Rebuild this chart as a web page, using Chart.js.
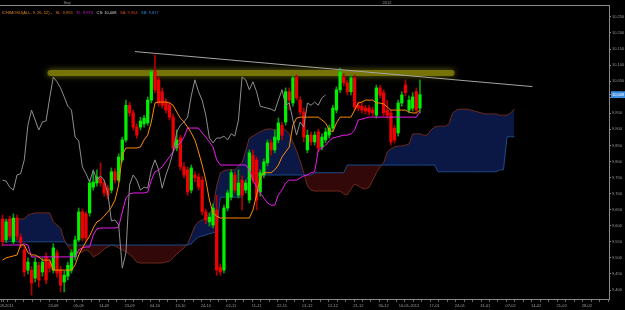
<!DOCTYPE html>
<html lang="en">
<head>
<meta charset="UTF-8">
<title>Ichimoku daily chart</title>
<script src="https://cdn.jsdelivr.net/npm/chart.js"></script>
<style>
  body { margin: 0; background: #000; }
  canvas { display: block; }
</style>
</head>
<body>
<canvas id="ichimoku" width="625" height="310"></canvas>
<script>
// daily bars, index 0 = first visible bar (start of Aug 2011), last bar = 115
const opens = [
  9621, 9556, 9621, 9550, 9624, 9565, 9525, 9462, 9462, 9437,
  9477, 9456, 9503, 9487, 9462, 9516, 9462, 9425, 9443, 9462,
  9503, 9556, 9643, 9637, 9640, 9720, 9733, 9749, 9733, 9717,
  9711, 9768, 9742, 9805, 9867, 9975, 9951, 9907, 9907, 9917,
  9920, 9991, 10079, 10054, 10017, 9985, 9975, 9938, 9842, 9873,
  9783, 9774, 9711, 9758, 9752, 9742, 9643, 9612, 9602, 9649,
  9471, 9462, 9655, 9689, 9758, 9695, 9742, 9711, 9680, 9820,
  9805, 9705, 9758, 9796, 9858, 9836, 9867, 9913, 9923, 10017,
  9982, 10063, 9991, 9954, 9836, 9882, 9861, 9892, 9845, 9867,
  9882, 9904, 9960, 10023, 10063, 10045, 10017, 10060, 9975, 9972,
  9966, 9966, 9960, 9944, 10029, 10014, 9960, 9951, 9904, 9889,
  9982, 10038, 9960, 9966, 10017, 9966
];
const highs = [
  9633, 9621, 9630, 9637, 9633, 9575, 9537, 9500, 9474, 9500,
  9487, 9500, 9516, 9497, 9544, 9525, 9474, 9459, 9487, 9525,
  9568, 9655, 9652, 9643, 9742, 9768, 9774, 9796, 9742, 9726,
  9780, 9777, 9824, 9876, 9991, 9985, 9960, 9917, 9938, 9944,
  10001, 10085, 10131, 10063, 10029, 9995, 9985, 9948, 9898, 9882,
  9796, 9783, 9789, 9768, 9762, 9752, 9652, 9640, 9668, 9695,
  9481, 9664, 9711, 9774, 9768, 9774, 9755, 9742, 9836, 9836,
  9814, 9774, 9808, 9867, 9867, 9898, 9935, 9923, 10029, 10029,
  10069, 10069, 10001, 9966, 9898, 9892, 9892, 9901, 9886, 9904,
  9913, 9975, 10032, 10091, 10073, 10054, 10069, 10069, 9985, 9982,
  9975, 9975, 9969, 10038, 10038, 10023, 9991, 9960, 9913, 9991,
  10017, 10054, 10004, 10014, 10029, 10054
];
const lows = [
  9537, 9547, 9559, 9544, 9556, 9531, 9443, 9450, 9384, 9425,
  9409, 9443, 9419, 9456, 9453, 9440, 9394, 9394, 9431, 9453,
  9493, 9550, 9553, 9550, 9630, 9711, 9723, 9723, 9692, 9683,
  9702, 9733, 9736, 9799, 9861, 9941, 9898, 9873, 9898, 9907,
  9913, 9982, 10014, 9972, 9966, 9951, 9929, 9833, 9833, 9774,
  9749, 9695, 9702, 9736, 9711, 9633, 9606, 9599, 9593, 9446,
  9446, 9453, 9646, 9680, 9702, 9686, 9649, 9702, 9671, 9733,
  9649, 9692, 9749, 9786, 9820, 9827, 9858, 9867, 9913, 9960,
  9972, 9991, 9944, 9861, 9827, 9851, 9851, 9830, 9836, 9858,
  9873, 9895, 9951, 10014, 10035, 10007, 10007, 9960, 9957, 9951,
  9948, 9944, 9941, 9935, 9998, 9941, 9935, 9851, 9858, 9879,
  9972, 10004, 9951, 9957, 9951, 9951
];
const closes = [
  9550, 9612, 9568, 9624, 9568, 9547, 9456, 9487, 9422, 9487,
  9431, 9487, 9431, 9468, 9531, 9453, 9415, 9446, 9477, 9516,
  9556, 9643, 9562, 9562, 9733, 9736, 9752, 9733, 9702, 9695,
  9768, 9742, 9814, 9867, 9975, 9951, 9907, 9882, 9926, 9935,
  9991, 10079, 10023, 9982, 9975, 9960, 9938, 9842, 9867, 9783,
  9758, 9705, 9780, 9749, 9720, 9643, 9618, 9627, 9655, 9462,
  9456, 9655, 9702, 9765, 9711, 9733, 9695, 9733, 9827, 9742,
  9680, 9765, 9799, 9858, 9836, 9876, 9920, 9882, 10017, 9991,
  10060, 9998, 9954, 9876, 9882, 9861, 9882, 9842, 9876, 9892,
  9904, 9966, 10023, 10079, 10045, 10017, 10060, 9969, 9966, 9960,
  9957, 9954, 9951, 10029, 10007, 9951, 9944, 9861, 9867, 9982,
  10007, 10014, 9991, 10001, 9960, 10008
];

// ichimoku lines (9, 26, 52)
const tenkan = [
  9493, 9500, 9503, 9506, 9509, 9540, 9540, 9516, 9509, 9509,
  9503, 9493, 9493, 9493, 9462, 9462, 9462, 9462, 9462, 9462,
  9478, 9509, 9531, 9550, 9568, 9593, 9612, 9618, 9630, 9643,
  9658, 9680, 9727, 9820, 9842, 9842, 9842, 9842, 9845, 9867,
  9882, 9923, 9982, 9985, 9985, 9985, 9982, 9975, 9954, 9935,
  9923, 9907, 9889, 9867, 9830, 9789, 9742, 9680, 9640, 9630,
  9624, 9624, 9624, 9624, 9624, 9624, 9624, 9624, 9624, 9649,
  9696, 9749, 9765, 9765, 9765, 9774, 9789, 9814, 9830, 9845,
  9913, 9935, 9938, 9938, 9938, 9938, 9938, 9938, 9929, 9920,
  9898, 9892, 9920, 9938, 9938, 9938, 9938, 9960, 9982, 9985,
  9991, 9991, 9991, 9982, 9982, 9979, 9969, 9960, 9960, 9960,
  9960, 9960, 9954, 9951, 9951, 9960
];
const kijun = [
  9540, 9540, 9540, 9540, 9540, 9540, 9544, 9540, 9503, 9503,
  9503, 9503, 9503, 9503, 9503, 9503, 9503, 9503, 9503, 9503,
  9503, 9525, 9531, 9534, 9534, 9571, 9590, 9593, 9593, 9593,
  9593, 9593, 9596, 9643, 9686, 9699, 9702, 9702, 9702, 9702,
  9705, 9742, 9768, 9774, 9783, 9799, 9814, 9830, 9848, 9858,
  9876, 9904, 9904, 9904, 9904, 9889, 9876, 9861, 9845, 9805,
  9789, 9789, 9789, 9789, 9789, 9789, 9789, 9789, 9774, 9742,
  9720, 9702, 9686, 9671, 9664, 9664, 9696, 9711, 9733, 9742,
  9742, 9742, 9749, 9755, 9758, 9765, 9768, 9836, 9842, 9851,
  9864, 9873, 9876, 9879, 9882, 9882, 9886, 9898, 9929, 9932,
  9935, 9938, 9938, 9938, 9938, 9938, 9938, 9938, 9938, 9938,
  9938, 9938, 9938, 9938, 9938, 9954
];
// lagging span, plotted 26 bars back (bars 0..89)
const chikou = [
  9742, 9739, 9720, 9711, 9758, 9762, 9805, 9913, 9960, 9929,
  9898, 9923, 9926, 9998, 10063, 10048, 10029, 10001, 9972, 9960,
  9876, 9864, 9783, 9762, 9736, 9774, 9742, 9755, 9742, 9702,
  9615, 9618, 9602, 9468, 9516, 9727, 9758, 9742, 9711, 9720,
  9717, 9774, 9805, 9774, 9717, 9758, 9789, 9830, 9892, 9913,
  9923, 9938, 10004, 10054, 10017, 9991, 9944, 9873, 9858, 9873,
  9873, 9879, 9867, 9886, 9879, 9929, 10063, 10054, 10023, 10048,
  10017, 9972, 9969, 9966, 9963, 9957, 9991, 10023, 9975, 9982,
  9929, 9882, 9923, 9907, 9982, 9975, 9985, 9975, 9998, 10007
];
// cloud, plotted 26 bars ahead (bars 0..141)
const senkouA = [
  9618, 9618, 9618, 9621, 9621, 9621, 9621, 9633, 9637, 9640,
  9640, 9640, 9640, 9640, 9612, 9602, 9593, 9556, 9537, 9519,
  9516, 9516, 9519, 9525, 9519, 9503, 9509, 9516, 9528, 9534,
  9540, 9537, 9531, 9525, 9519, 9512, 9500, 9487, 9484, 9484,
  9484, 9484, 9484, 9484, 9484, 9487, 9490, 9500, 9512, 9522,
  9531, 9544, 9571, 9599, 9612, 9618, 9627, 9637, 9655, 9724,
  9765, 9771, 9774, 9774, 9774, 9786, 9796, 9833, 9873, 9879,
  9886, 9892, 9898, 9901, 9901, 9898, 9898, 9904, 9898, 9886,
  9861, 9833, 9802, 9765, 9724, 9711, 9708, 9708, 9708, 9708,
  9708, 9708, 9708, 9708, 9699, 9696, 9714, 9730, 9724, 9717,
  9714, 9720, 9742, 9765, 9783, 9796, 9830, 9839, 9845, 9848,
  9848, 9851, 9855, 9886, 9886, 9886, 9882, 9882, 9898, 9907,
  9910, 9910, 9910, 9917, 9951, 9960, 9963, 9963, 9963, 9960,
  9957, 9954, 9951, 9948, 9948, 9948, 9948, 9944, 9944, 9944,
  9951, 9963
];
const senkouB = [
  9550, 9550, 9550, 9550, 9550, 9550, 9550, 9550, 9550, 9550,
  9550, 9550, 9550, 9550, 9550, 9550, 9550, 9550, 9540, 9540,
  9540, 9540, 9540, 9540, 9540, 9540, 9540, 9540, 9540, 9540,
  9540, 9540, 9540, 9540, 9540, 9540, 9540, 9540, 9540, 9540,
  9540, 9540, 9540, 9540, 9540, 9540, 9540, 9540, 9540, 9540,
  9540, 9540, 9544, 9556, 9565, 9568, 9571, 9575, 9578, 9581,
  9689, 9689, 9689, 9689, 9689, 9689, 9689, 9736, 9758, 9758,
  9758, 9758, 9758, 9758, 9758, 9758, 9758, 9758, 9758, 9758,
  9758, 9758, 9758, 9758, 9758, 9758, 9765, 9765, 9765, 9765,
  9765, 9765, 9765, 9765, 9765, 9789, 9789, 9789, 9789, 9789,
  9789, 9789, 9789, 9789, 9789, 9789, 9789, 9789, 9789, 9789,
  9789, 9789, 9789, 9789, 9789, 9789, 9789, 9789, 9789, 9789,
  9768, 9768, 9768, 9768, 9768, 9768, 9768, 9768, 9768, 9768,
  9768, 9768, 9768, 9768, 9768, 9768, 9768, 9774, 9774, 9877,
  9877, 9877
];

// drawn annotations (bar index / price)
const resistance = 10075;
const resistanceSpan = [13.2, 123.7];
const trendIdx = [36.5, 146];
const trendVal = [10142, 10033];

// axes
const xTickIdx = [0.3, 14, 21, 28, 35, 42, 49, 56, 63, 70, 77, 84, 91, 98, 105,
  112, 119, 126, 133, 140, 147, 154, 161];
const xTickLabels = ['01-08-2011', '23-08', '05-09', '14-09', '23-09', '04-10', '13-10',
  '24-10', '02-11', '11-11', '22-11', '01-12', '12-12', '21-12', '30-12', '10-01-2012',
  '17-01', '24-01', '31-01', '07-02', '14-02', '21-02', '28-02'];
const topTickIdx = [1.5, 17.8, 25.5, 33.2, 41.2, 48.3, 56.3, 63.5, 70.9, 78.4, 85.5,
  95.2, 105.9, 113.6, 121.4, 128.8, 136.2, 143.9, 151.7, 159.4];
const topTickLabels = ['', 'Sep', '', '', '', '', '', '', '', '', '',
  '', '2012', '', '', '', '', '', '', ''];
const priceTicks = [9400, 9450, 9500, 9550, 9600, 9650, 9700, 9750, 9800, 9850,
  9900, 9950, 10000, 10050, 10100, 10150, 10200, 10250];
const lastPrice = 10008;

const headerTexts = ['ICHIMOKU(ALL, 9, 26, 52) -', 'SL: 9,955', 'TL: 9,973', 'CS: 10,008', 'SA: 9,964', 'SB: 9,877'];
const headerColors = ['#e38b1f', '#e2781c', '#d820d8', '#d8d8d8', '#cc4a1e', '#2f86d6'];

Chart.defaults.font.family = '"Liberation Sans", Arial, sans-serif';
Chart.defaults.font.size = 4;

const pts = arr => arr.map((v, i) => ({ x: i, y: v }));
const up = closes.map((c, i) => c >= opens[i]);
const axisGrey = '#8a8a8a';
const textGrey = '#9a9a9a';

const headerPlugin = {
  id: 'header',
  afterDraw(chart) {
    const ctx = chart.ctx;
    ctx.save();
    ctx.font = '4px "Liberation Sans", Arial, sans-serif';
    ctx.textBaseline = 'middle';
    let x = 2;
    headerTexts.forEach((t, k) => {
      ctx.fillStyle = headerColors[k];
      ctx.fillText(t, x, 12.7);
      x += ctx.measureText(t).width + 3.5;
    });
    ctx.restore();
  }
};

const glowPlugin = {
  id: 'glow',
  beforeDatasetDraw(chart, args) {
    const ds = chart.data.datasets[args.index];
    if (!ds.glow) return;
    chart.ctx.save();
    chart.ctx.shadowColor = ds.glow;
    chart.ctx.shadowBlur = 6;
  },
  afterDatasetDraw(chart, args) {
    if (chart.data.datasets[args.index].glow) chart.ctx.restore();
  }
};

const line = (data, color, order, extra) => Object.assign({
  type: 'line', data, borderColor: color, borderWidth: 1,
  pointRadius: 0, tension: 0, fill: false, order
}, extra || {});

new Chart(document.getElementById('ichimoku'), {
  type: 'bar',
  data: {
    datasets: [
      line(pts(senkouA), '#6e2a1c', 9, { fill: { target: 1, above: '#0b1846', below: '#330808' } }),
      line(pts(senkouB), '#1d4c8c', 8),
      line([{ x: resistanceSpan[0], y: resistance }, { x: resistanceSpan[1], y: resistance }],
        'rgba(128,125,8,0.85)', 7, { borderWidth: 6, borderCapStyle: 'round', glow: 'rgba(150,145,10,0.85)' }),
      {
        type: 'bar', order: 6, grouped: false, barThickness: 1,
        data: lows.map((l, i) => ({ x: i, y: [l, highs[i]] })),
        backgroundColor: up.map(u => u ? '#0b9e0b' : '#b40000')
      },
      {
        type: 'bar', order: 5, grouped: false, barThickness: 2.6, minBarLength: 1,
        data: opens.map((o, i) => ({ x: i, y: [o, closes[i]] })),
        backgroundColor: up.map(u => u ? '#00f000' : '#f00000')
      },
      line(pts(kijun), '#ee1cee', 3),
      line(pts(tenkan), '#ff8c00', 2),
      line(pts(chikou), '#8e8e8e', 1),
      line([{ x: trendIdx[0], y: trendVal[0] }, { x: trendIdx[1], y: trendVal[1] }], '#a4a4a4', 0)
    ]
  },
  options: {
    responsive: false,
    animation: false,
    events: [],
    layout: { padding: 0 },
    plugins: { legend: { display: false }, tooltip: { enabled: false } },
    scales: {
      x: {
        type: 'linear', min: -0.69, max: 167.08, offset: false,
        afterBuildTicks: s => {
          const t = xTickIdx.map((v, k) => ({ value: v, name: xTickLabels[k] }));
          for (let k = 0; k * 7 / 3 < s.max; k++) {
            if (k % 3 === 0 && k >= 6) continue;
            t.push({ value: k * 7 / 3, name: '' });
          }
          t.sort((a, b) => a.value - b.value);
          s.ticks = t;
        },
        afterFit: s => { s.height = 11; s.paddingLeft = 0; s.paddingRight = 0; },
        border: { color: axisGrey },
        grid: { drawOnChartArea: false, tickLength: 3, color: '#6a6a6a' },
        ticks: {
          autoSkip: false, maxRotation: 0, padding: 1, color: textGrey,
          callback: (v, i, t) => t[i].name
        }
      },
      x2: {
        type: 'linear', position: 'top', min: -0.69, max: 167.08, offset: false,
        afterBuildTicks: s => {
          s.ticks = topTickIdx.map((v, k) => ({ value: v, name: topTickLabels[k] }));
        },
        afterFit: s => { s.height = 5; s.paddingLeft = 0; s.paddingRight = 0; },
        border: { color: axisGrey },
        grid: { drawOnChartArea: false, drawTicks: false },
        ticks: {
          autoSkip: false, maxRotation: 0, padding: 0, color: textGrey,
          callback: (v, i, t) => t[i].name
        }
      },
      y: {
        type: 'linear', position: 'right', min: 9372, max: 10287,
        afterBuildTicks: s => {
          s.ticks = priceTicks.map(v => ({ value: v })).concat([{ value: lastPrice }]);
        },
        afterFit: s => { s.width = 16; s.paddingTop = 0; s.paddingBottom = 0; },
        border: { color: axisGrey },
        grid: { drawOnChartArea: false, tickLength: 2, color: axisGrey },
        ticks: {
          autoSkip: false, padding: 1,
          color: c => (c.tick && c.tick.value === lastPrice) ? '#ffffff' : textGrey,
          showLabelBackdrop: c => !!(c.tick && c.tick.value === lastPrice),
          backdropColor: '#3b8de0',
          backdropPadding: 1,
          callback: v => v.toLocaleString('en-US')
        }
      }
    }
  },
  plugins: [glowPlugin, headerPlugin]
});
</script>
</body>
</html>
